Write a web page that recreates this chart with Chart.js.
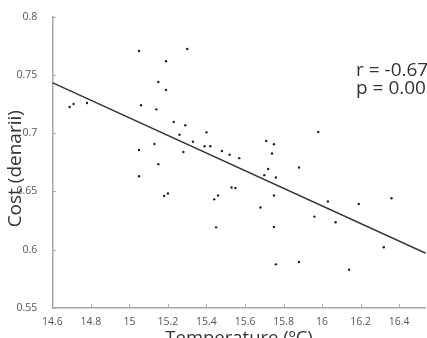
<!DOCTYPE html>
<html>
<head>
<meta charset="utf-8">
<script src="https://cdn.jsdelivr.net/npm/chart.js@4.4.1/dist/chart.umd.min.js"></script>
<style>
  html, body { margin: 0; padding: 0; background: #fff; }
  #wrap { width: 427px; height: 338px; }
</style>
</head>
<body>
<div id="wrap"><canvas id="myChart" width="427" height="338"></canvas></div>
<script>
// temperature (ºC) vs cost (denarii)
var temps = [14.69, 14.71, 14.78, 15.05, 15.06, 15.05, 15.05, 15.13, 15.14, 15.15,
             15.15, 15.18, 15.19, 15.19, 15.20, 15.23, 15.26, 15.28, 15.29, 15.30,
             15.33, 15.39, 15.40, 15.42, 15.44, 15.46, 15.45, 15.48, 15.52, 15.53,
             15.55, 15.57, 15.68, 15.70, 15.71, 15.72, 15.74, 15.75, 15.76, 15.75,
             15.75, 15.76, 15.88, 15.88, 15.96, 15.98, 16.03, 16.07, 16.14, 16.19,
             16.32, 16.36];
var costs = [0.7226, 0.7252, 0.726, 0.7708, 0.7241, 0.6856, 0.663, 0.6908, 0.7206, 0.7441,
             0.6734, 0.6461, 0.7619, 0.7372, 0.6482, 0.7097, 0.6988, 0.6839, 0.7069, 0.7725,
             0.6928, 0.6889, 0.7008, 0.6889, 0.6432, 0.6465, 0.6191, 0.6848, 0.6815, 0.6534,
             0.6529, 0.6786, 0.6362, 0.664, 0.6934, 0.6693, 0.6826, 0.6906, 0.662, 0.6465,
             0.6194, 0.5873, 0.6706, 0.5893, 0.6283, 0.7011, 0.6413, 0.6235, 0.5826, 0.6392,
             0.602, 0.6441];

// fitted line end points
var fitX = [14.6, 16.538];
var fitY = [0.7435, 0.5968];

var xTicks = [14.6, 14.8, 15, 15.2, 15.4, 15.6, 15.8, 16, 16.2, 16.4];
var yTicks = [0.55, 0.6, 0.65, 0.7, 0.75, 0.8];

var noteText = ["r = -0.67", "p = 0.00"];
var noteX = [16.176, 16.176];
var noteY = [0.7536, 0.738];

var yTitle = "Cost (denarii)";

var pts = temps.map(function(t, i) { return {x: t, y: costs[i]}; });
var fit = fitX.map(function(t, i) { return {x: t, y: fitY[i]}; });

function fmt(v) { return String(+Number(v).toFixed(2)); }

// small ticks pointing into the plot, y title, r/p text
var extras = {
  id: 'extras',
  afterDraw: function(chart) {
    var ctx = chart.ctx, xs = chart.scales.x, ys = chart.scales.y, a = chart.chartArea;
    ctx.save();
    ctx.strokeStyle = '#a8a8a8';
    ctx.lineWidth = 1;
    ctx.beginPath();
    xTicks.forEach(function(v) {
      var px = Math.round(xs.getPixelForValue(v)) + 0.5;
      ctx.moveTo(px, a.bottom);
      ctx.lineTo(px, a.bottom - 3.5);
    });
    yTicks.forEach(function(v) {
      var py = Math.round(ys.getPixelForValue(v)) + 0.5;
      ctx.moveTo(a.left, py);
      ctx.lineTo(a.left + 3.5, py);
    });
    ctx.stroke();

    ctx.fillStyle = '#333';
    ctx.font = '19px "Open Sans"';
    ctx.textBaseline = 'middle';
    ctx.textAlign = 'left';
    noteText.forEach(function(s, i) {
      ctx.fillText(s, xs.getPixelForValue(noteX[i]), ys.getPixelForValue(noteY[i]));
    });

    // y title, a bit below the middle of the axis as in the source
    ctx.font = '19px "Open Sans"';
    ctx.textAlign = 'center';
    ctx.translate(16, ys.getPixelForValue(0.6695));
    ctx.rotate(-Math.PI / 2);
    ctx.fillText(yTitle, 0, 0);
    ctx.restore();
  }
};

new Chart("myChart", {
  type: "scatter",
  data: {
    datasets: [{
      data: pts,
      backgroundColor: '#222',
      borderWidth: 0,
      pointRadius: 1.2,
      pointHoverRadius: 1.2
    }, {
      type: 'line',
      data: fit,
      borderColor: '#333',
      borderWidth: 1.4,
      pointRadius: 0,
      fill: false
    }]
  },
  options: {
    responsive: false,
    animation: false,
    events: [],
    layout: { padding: { top: 17, right: 0, left: 0, bottom: 0 } },
    plugins: { legend: { display: false }, tooltip: { enabled: false } },
    scales: {
      x: {
        type: 'linear',
        min: 14.6,
        max: 16.538,
        afterBuildTicks: function(s) { s.ticks = xTicks.map(function(v) { return {value: v}; }); },
        afterFit: function(s) { s.height = 30.3; },
        grid: { display: false },
        border: { display: true, color: '#a8a8a8', width: 1.5 },
        ticks: { color: '#555', font: { family: 'Open Sans', size: 10.5 }, padding: 0,
                 maxRotation: 0, autoSkip: false, callback: fmt },
        title: { display: true, text: 'Temperature (ºC)', color: '#333',
                 font: { family: 'Open Sans', size: 18.5, lineHeight: 0.1 }, padding: { top: 0, bottom: -2 } }
      },
      y: {
        min: 0.55,
        max: 0.8,
        afterBuildTicks: function(s) { s.ticks = yTicks.map(function(v) { return {value: v}; }); },
        afterFit: function(s) { s.width = 52.3; },
        grid: { display: false },
        border: { display: true, color: '#a8a8a8', width: 1.5 },
        ticks: { color: '#555', font: { family: 'Open Sans', size: 10.5 }, padding: 7,
                 autoSkip: false, callback: fmt }
      }
    }
  },
  plugins: [extras]
});
</script>
</body>
</html>
